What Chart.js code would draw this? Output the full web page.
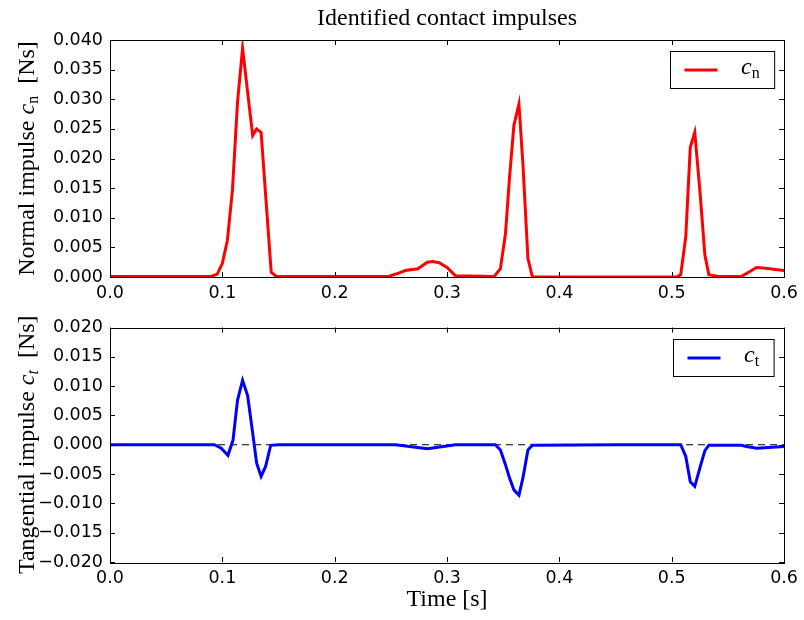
<!DOCTYPE html>
<html>
<head>
<meta charset="utf-8">
<script src="https://cdn.jsdelivr.net/npm/chart.js@4.4.1/dist/chart.umd.min.js"></script>
<style>
  body { margin: 0; background: #fff; }
  #wrap { position: relative; width: 804px; height: 620px; }
  canvas { position: absolute; left: 0; }
</style>
</head>
<body>
<div id="wrap">
  <canvas id="topChart" width="804" height="310" style="top:0"></canvas>
  <canvas id="botChart" width="804" height="310" style="top:310px"></canvas>
</div>
<script>
// normal impulse c_n
const timeN = [0, 0.05, 0.09, 0.0955, 0.1, 0.1045, 0.109, 0.1135, 0.118, 0.1225, 0.127, 0.1305, 0.1345,
  0.139, 0.1435, 0.148, 0.2, 0.248, 0.2575, 0.263, 0.274, 0.2825, 0.287, 0.293, 0.3, 0.3075, 0.342,
  0.3475, 0.352, 0.3555, 0.3595, 0.364, 0.3675, 0.372, 0.376, 0.45, 0.5045, 0.508, 0.5125, 0.5165,
  0.5205, 0.525, 0.5295, 0.533, 0.5415, 0.562, 0.5665, 0.5755, 0.5815, 0.6];
const impulseN = [0.0001, 0.0001, 0.0001, 0.0005, 0.0023, 0.0062, 0.0147, 0.0295, 0.0386, 0.0312, 0.0239, 0.0250, 0.0244,
  0.0126, 0.0008, 0.0001, 0.0001, 0.0001, 0.0007, 0.0011, 0.0014, 0.0025, 0.0026, 0.0024, 0.0016, 0.0002, 0.0001,
  0.0014, 0.0073, 0.0165, 0.0256, 0.0292, 0.0192, 0.0031, 0.0, 0.0, 0.0, 0.0004, 0.0068, 0.0219,
  0.0244, 0.0147, 0.0037, 0.0004, 0.0001, 0.0001, 0.0006, 0.0016, 0.0015, 0.0011];

// tangential impulse c_t
const timeT = [0, 0.093, 0.099, 0.105, 0.1095, 0.1135, 0.118, 0.1225, 0.1265, 0.1305, 0.1345, 0.1385, 0.143,
  0.15, 0.254, 0.2825, 0.3075, 0.343, 0.3475, 0.352, 0.3555, 0.3595, 0.364, 0.3675, 0.372, 0.376, 0.45,
  0.508, 0.5125, 0.5165, 0.5205, 0.525, 0.5295, 0.533, 0.562, 0.5665, 0.5755, 0.6];
const impulseT = [0, 0, -0.0006, -0.0018, 0.0008, 0.0076, 0.0110, 0.0084, 0.0027, -0.0031, -0.0054, -0.0037, -0.0001,
  0, 0, -0.0007, 0, 0, -0.0009, -0.0034, -0.0056, -0.0077, -0.0086, -0.0057, -0.0009, -0.0001, 0,
  0, -0.0020, -0.0063, -0.0071, -0.0040, -0.0010, -0.0001, -0.0001, -0.0003, -0.0006, -0.0003];

const zeroTime = [0, 0.6];
const zeroLine = [0, 0];

const xTicks = [0, 0.1, 0.2, 0.3, 0.4, 0.5, 0.6];
const yTicksN = [0, 0.005, 0.01, 0.015, 0.02, 0.025, 0.03, 0.035, 0.04];
const yTicksT = [-0.02, -0.015, -0.01, -0.005, 0, 0.005, 0.01, 0.015, 0.02];

const SERIF = '"Liberation Serif", "Times New Roman", serif';
const SANS = '"DejaVu Sans", sans-serif';

function pts(xs, ys) {
  return xs.map((x, i) => ({ x: x, y: ys[i] }));
}

function fmtY(v) {
  if (Math.abs(v) < 1e-9) return '0.000';
  return v < 0 ? '\u2212' + (-v).toFixed(3) : v.toFixed(3);
}

// draw a row of text pieces with different fonts
function drawRuns(ctx, runs, x, y, align) {
  let w = 0;
  runs.forEach(r => { ctx.font = r.font; r.w = ctx.measureText(r.t).width; w += r.w; });
  let cx = align === 'center' ? x - w / 2 : x;
  ctx.textAlign = 'left';
  ctx.textBaseline = 'alphabetic';
  runs.forEach(r => { ctx.font = r.font; ctx.fillText(r.t, cx, y + (r.dy || 0)); cx += r.w; });
  return w;
}

function measureRuns(ctx, runs) {
  let w = 0;
  runs.forEach(r => { ctx.font = r.font; w += ctx.measureText(r.t).width; });
  return w;
}

// frame and inward ticks like matplotlib classic
const framePlugin = {
  id: 'frame',
  afterDatasetsDraw(chart) {
    const { ctx, chartArea: a, scales } = chart;
    ctx.save();
    ctx.strokeStyle = '#000';
    ctx.lineWidth = 1;
    ctx.beginPath();
    scales.x.ticks.forEach(t => {
      const px = Math.round(scales.x.getPixelForValue(t.value)) + 0.5;
      ctx.moveTo(px, a.bottom); ctx.lineTo(px, a.bottom - 5);
      ctx.moveTo(px, a.top); ctx.lineTo(px, a.top + 5);
    });
    scales.y.ticks.forEach(t => {
      const py = Math.round(scales.y.getPixelForValue(t.value)) + 0.5;
      ctx.moveTo(a.left, py); ctx.lineTo(a.left + 5, py);
      ctx.moveTo(a.right, py); ctx.lineTo(a.right - 5, py);
    });
    ctx.stroke();
    ctx.strokeRect(Math.round(a.left) + 0.5, Math.round(a.top) + 0.5,
      Math.round(a.right - a.left), Math.round(a.bottom - a.top));
    ctx.restore();
  }
};

// labels, title and legend box
const textPlugin = {
  id: 'texts',
  afterDraw(chart) {
    const o = chart.options.plugins.texts;
    const { ctx, chartArea: a } = chart;
    ctx.save();
    ctx.fillStyle = '#000';

    if (o.title) {
      drawRuns(ctx, [{ t: o.title, font: '24px ' + SERIF }], (a.left + a.right) / 2, a.top - 15, 'center');
    }
    if (o.xTitle) {
      drawRuns(ctx, [{ t: o.xTitle, font: '24px ' + SERIF }], (a.left + a.right) / 2, a.bottom + 44, 'center');
    }

    // rotated y title
    ctx.save();
    ctx.translate(34, (a.top + a.bottom) / 2);
    ctx.rotate(-Math.PI / 2);
    drawRuns(ctx, o.yTitle, 0, 0, 'center');
    ctx.restore();

    // legend
    const lg = o.legend;
    const textW = measureRuns(ctx, lg.runs);
    const boxW = 14 + 33 + 23.5 + textW + 15;
    const boxH = 37;
    const bx = Math.round(a.right - 10 - boxW) + 0.5;
    const by = Math.round(a.top + 11) + 0.5;
    ctx.fillStyle = '#fff';
    ctx.fillRect(bx, by, boxW, boxH);
    ctx.strokeStyle = '#000';
    ctx.lineWidth = 1;
    ctx.strokeRect(bx, by, boxW, boxH);
    ctx.strokeStyle = lg.color;
    ctx.lineWidth = 3;
    ctx.beginPath();
    ctx.moveTo(bx + 14, by + boxH / 2);
    ctx.lineTo(bx + 47, by + boxH / 2);
    ctx.stroke();
    ctx.fillStyle = '#000';
    drawRuns(ctx, lg.runs, bx + 70.5, by + 22.5, 'left');
    ctx.restore();
  }
};

function makeOptions(yMin, yMax, yTicks, axisHeight, texts, padTop) {
  return {
    responsive: false,
    animation: false,
    devicePixelRatio: 1,
    layout: { padding: { left: 0, right: 18, top: padTop, bottom: 0 } },
    plugins: { legend: { display: false }, tooltip: { enabled: false }, texts: texts },
    scales: {
      x: {
        type: 'linear', min: 0, max: 0.6,
        afterBuildTicks: s => { s.ticks = xTicks.map(v => ({ value: v })); },
        afterFit: s => { s.height = axisHeight; },
        grid: { display: false, drawTicks: false },
        border: { display: false },
        ticks: { color: '#000', padding: 6, font: { family: SANS, size: 17.5 }, maxRotation: 0,
          callback: v => v.toFixed(1) }
      },
      y: {
        type: 'linear', min: yMin, max: yMax,
        afterBuildTicks: s => { s.ticks = yTicks.map(v => ({ value: v })); },
        afterFit: s => { s.width = 110; },
        grid: { display: false, drawTicks: false },
        border: { display: false },
        ticks: { color: '#000', padding: 7, font: { family: SANS, size: 17.5 }, callback: v => fmtY(v) }
      }
    }
  };
}

const cFont = 'italic 24px ' + SERIF;
const subFont = '16px ' + SERIF;
const subItalic = 'italic 16px ' + SERIF;
const lblFont = '24px ' + SERIF;

new Chart(document.getElementById('topChart'), {
  type: 'line',
  data: {
    datasets: [{
      data: pts(timeN, impulseN),
      borderColor: '#ff0000', borderWidth: 3, pointRadius: 0, tension: 0, fill: false
    }]
  },
  options: makeOptions(0, 0.04, yTicksN, 33, {
    title: 'Identified contact impulses',
    yTitle: [
      { t: 'Normal impulse ', font: lblFont },
      { t: 'c', font: cFont },
      { t: 'n', font: subFont, dy: 4 },
      { t: '  [Ns]', font: lblFont }
    ],
    legend: { color: '#ff0000', runs: [{ t: 'c', font: cFont }, { t: 'n', font: subFont, dy: 4 }] }
  }, 40),
  plugins: [framePlugin, textPlugin]
});

new Chart(document.getElementById('botChart'), {
  type: 'line',
  data: {
    datasets: [{
      data: pts(timeT, impulseT),
      borderColor: '#0000ff', borderWidth: 3, pointRadius: 0, tension: 0, fill: false
    }, {
      data: pts(zeroTime, zeroLine),
      borderColor: '#000', borderWidth: 1.2, borderDash: [7, 5], pointRadius: 0, fill: false
    }]
  },
  options: makeOptions(-0.02, 0.02, yTicksT, 58, {
    xTitle: 'Time [s]',
    yTitle: [
      { t: 'Tangential impulse ', font: lblFont },
      { t: 'c', font: cFont },
      { t: 't', font: subItalic, dy: 4 },
      { t: '  [Ns]', font: lblFont }
    ],
    legend: { color: '#0000ff', runs: [{ t: 'c', font: cFont }, { t: 't', font: subFont, dy: 4 }] }
  }, 15),
  plugins: [framePlugin, textPlugin]
});
</script>
</body>
</html>
